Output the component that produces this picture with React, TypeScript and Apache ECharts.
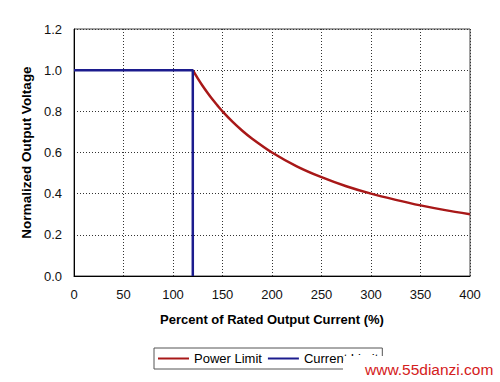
import { useEffect, useRef } from "react";
import * as echarts from "echarts";

const xTicks = [0, 50, 100, 150, 200, 250, 300, 350, 400];
const yTicks = [0, 0.2, 0.4, 0.6, 0.8, 1.0, 1.2];
const powerX = [120, 125, 130, 135, 140, 145, 150, 160, 170, 180, 200, 225, 250, 275, 300, 325, 350, 375, 400];
const powerY = [1.0, 0.96, 0.923, 0.889, 0.857, 0.828, 0.8, 0.75, 0.706, 0.667, 0.6, 0.533, 0.48, 0.436, 0.4, 0.37, 0.343, 0.32, 0.3];
const currentX = [0, 120, 120];
const currentY = [1.0, 1.0, 0.0];
const seriesNames = ["Power Limit", "Current Limit"];
const xName = "Percent of Rated Output Current (%)";
const yName = "Normalized Output Voltage";
const watermark = "www.55dianzi.com";

const FONT = "Liberation Sans, Arial, sans-serif";

export default function App() {
  const ref = useRef<HTMLDivElement>(null);
  useEffect(() => {
    if (!ref.current) return;
    const chart = echarts.init(ref.current, null, { renderer: "svg" });
    chart.setOption({
      animation: false,
      backgroundColor: "#ffffff",
      textStyle: { fontFamily: FONT },
      grid: {
        left: 74,
        right: 30,
        top: 29,
        bottom: 106,
        show: true,
        borderColor: "#444",
        borderWidth: 1,
      },
      xAxis: {
        type: "value",
        min: xTicks[0],
        max: xTicks[xTicks.length - 1],
        interval: 50,
        name: xName,
        nameLocation: "middle",
        nameGap: 37,
        nameTextStyle: { fontFamily: FONT, fontSize: 13, fontWeight: "bold", color: "#000" },
        axisLine: { show: true, onZero: false, lineStyle: { color: "#000", width: 1 } },
        axisTick: { show: false },
        axisLabel: { margin: 12, fontSize: 13, color: "#111", fontFamily: FONT },
        splitLine: { show: true, lineStyle: { color: "#333", width: 1, type: [1, 2] } },
      },
      yAxis: {
        type: "value",
        min: yTicks[0],
        max: yTicks[yTicks.length - 1],
        interval: 0.2,
        name: yName,
        nameLocation: "middle",
        nameGap: 37,
        nameTextStyle: { fontFamily: FONT, fontSize: 13.5, fontWeight: "bold", color: "#000" },
        axisLine: { show: true, lineStyle: { color: "#000", width: 1 } },
        axisTick: { show: false },
        axisLabel: {
          margin: 12,
          fontSize: 13,
          color: "#111",
          fontFamily: FONT,
          formatter: (v: number) => v.toFixed(1),
        },
        splitLine: { show: true, lineStyle: { color: "#333", width: 1, type: [1, 2] } },
      },
      legend: {
        left: 154,
        top: 348,
        orient: "horizontal",
        padding: [4, 4, 4, 4],
        itemGap: 6,
        itemWidth: 31,
        itemHeight: 2,
        borderColor: "#555",
        borderWidth: 1,
        backgroundColor: "#fff",
        textStyle: { fontFamily: FONT, fontSize: 13, color: "#000" },
        data: [
          { name: seriesNames[0], icon: "rect" },
          { name: seriesNames[1], icon: "rect" },
        ],
      },
      series: [
        {
          name: seriesNames[0],
          type: "line",
          data: powerX.map((x, i) => [x, powerY[i]]),
          smooth: 0.3,
          showSymbol: false,
          symbol: "none",
          lineStyle: { color: "#a81818", width: 2.5 },
          itemStyle: { color: "#a81818" },
          z: 2,
        },
        {
          name: seriesNames[1],
          type: "line",
          data: currentX.map((x, i) => [x, currentY[i]]),
          showSymbol: false,
          symbol: "none",
          lineStyle: { color: "#1c1c8e", width: 2.5 },
          itemStyle: { color: "#1c1c8e" },
          z: 3,
        },
      ],
      graphic: [
        {
          type: "rect",
          z: 100,
          shape: { x: 344, y: 356, width: 44, height: 26 },
          style: { fill: "#fff" },
        },
        {
          type: "rect",
          z: 100,
          shape: { x: 343, y: 361, width: 157, height: 21 },
          style: { fill: "#fff" },
        },
        {
          type: "text",
          z: 101,
          x: 365,
          y: 369,
          style: {
            text: watermark,
            font: `15.5px ${FONT}`,
            fill: "#d42020",
            verticalAlign: "middle",
          },
        },
      ],
    });
    return () => chart.dispose();
  }, []);
  return (
    <div
      ref={ref}
      style={{ position: "absolute", left: 0, top: 0, width: 500, height: 382 }}
    />
  );
}
